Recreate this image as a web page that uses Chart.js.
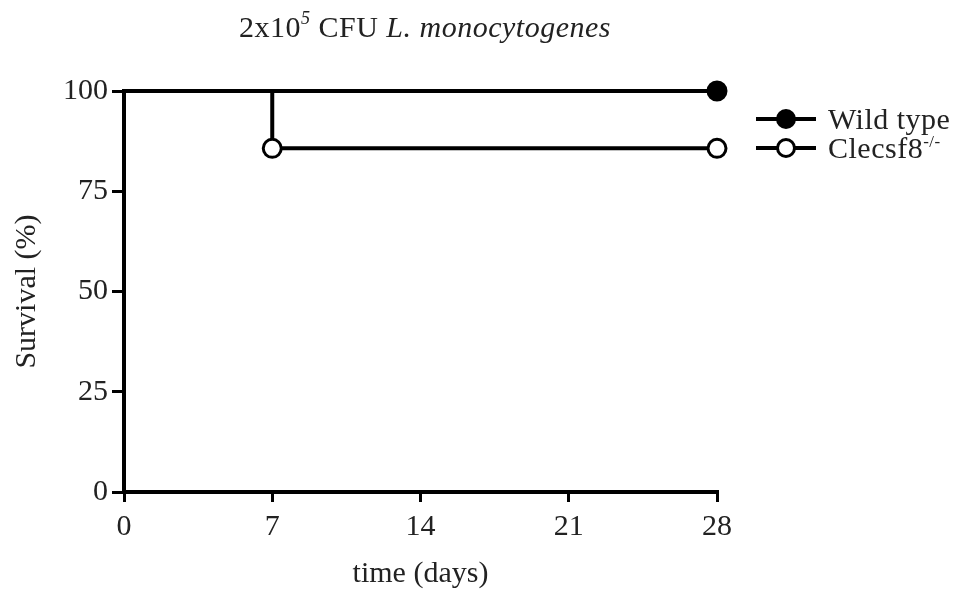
<!DOCTYPE html>
<html>
<head>
<meta charset="utf-8">
<script src="https://cdn.jsdelivr.net/npm/chart.js@4.4.1/dist/chart.umd.min.js"></script>
<style>
  html, body { margin: 0; padding: 0; background: #fff; }
  #wrap { position: relative; width: 964px; height: 594px; }
  #title {
    position: absolute; left: 0; top: 12px; width: 850px;
    text-align: center; font-family: "Liberation Serif", serif;
    font-size: 30px; color: #222; line-height: 1; letter-spacing: 0.5px;
  }
  #title sup { font-size: 18px; font-style: italic; vertical-align: 13px; line-height: 0; }
  #legend { position: absolute; left: 756px; top: 104px; font-family: "Liberation Serif", serif; font-size: 30px; color: #222; letter-spacing: 0.5px; }
  .item { display: flex; align-items: center; height: 29px; }
  .sym { position: relative; width: 60px; height: 20px; margin-right: 12px; }
  .sym .ln { position: absolute; left: 0; right: 0; top: 8px; height: 4px; background: #000; }
  .sym .dot { position: absolute; left: 20px; top: 0; width: 20px; height: 20px; border-radius: 50%; box-sizing: border-box; border: 3px solid #000; }
  .item sup { font-size: 17px; vertical-align: 11px; line-height: 0; }
</style>
</head>
<body>
<div id="wrap">
  <canvas id="chart" width="964" height="594"></canvas>
  <div id="title">2x10<sup>5</sup> CFU <i>L. monocytogenes</i></div>
  <div id="legend"></div>
</div>
<script>
// survival data
const wildTypeDays = [0, 28];
const wildTypeSurvival = [100, 100];
const wildTypeMarks = [false, true];

const knockoutDays = [0, 7, 28];
const knockoutSurvival = [100, 85.7, 85.7];
const knockoutMarks = [false, true, true];

const seriesNames = ['Wild type', 'Clecsf8'];
const seriesSup = ['', '-/-'];
const seriesFill = ['#000', '#fff'];

const xTicks = [0, 7, 14, 21, 28];
const yTicks = [0, 25, 50, 75, 100];

const FONT = { family: '"Liberation Serif", serif', size: 30 };

function toPoints(xs, ys) {
  return xs.map((x, i) => ({ x: x, y: ys[i] }));
}

function lineDataset(label, xs, ys, marks, fill) {
  return {
    label: label,
    data: toPoints(xs, ys),
    stepped: true,
    borderColor: '#000',
    borderWidth: 4,
    fill: false,
    clip: false,
    pointRadius: ctx => marks[ctx.dataIndex] ? 9 : 0,
    pointBackgroundColor: fill,
    pointBorderColor: '#000',
    pointBorderWidth: 3
  };
}

// legend built in html so the superscript can be kept
const legendEl = document.getElementById('legend');
seriesNames.forEach((name, i) => {
  const row = document.createElement('div');
  row.className = 'item';
  row.innerHTML = '<div class="sym"><div class="ln"></div><div class="dot" style="background:' +
    seriesFill[i] + '"></div></div><span>' + name +
    (seriesSup[i] ? '<sup>' + seriesSup[i] + '</sup>' : '') + '</span>';
  legendEl.appendChild(row);
});

const ctx = document.getElementById('chart').getContext('2d');

new Chart(ctx, {
  type: 'scatter',
  data: {
    datasets: [
      lineDataset(seriesNames[0], wildTypeDays, wildTypeSurvival, wildTypeMarks, seriesFill[0]),
      lineDataset(seriesNames[1], knockoutDays, knockoutSurvival, knockoutMarks, seriesFill[1])
    ]
  },
  options: {
    responsive: false,
    animation: false,
    showLine: true,
    layout: { padding: { top: 91, right: 247, left: 0, bottom: 0 } },
    plugins: {
      legend: { display: false },
      tooltip: { enabled: false }
    },
    scales: {
      x: {
        type: 'linear',
        min: 0,
        max: 28,
        afterBuildTicks: s => { s.ticks = xTicks.map(v => ({ value: v })); },
        afterFit: s => { s.height = 102; },
        grid: { drawOnChartArea: false, drawTicks: true, tickLength: 10, color: '#000', lineWidth: 3 },
        border: { display: true, color: '#000', width: 4 },
        ticks: { color: '#222', font: FONT, padding: 7, maxRotation: 0 },
        title: { display: true, text: 'time (days)', color: '#222', font: FONT, padding: { top: 0, bottom: 2 } }
      },
      y: {
        min: 0,
        max: 100,
        afterBuildTicks: s => { s.ticks = yTicks.map(v => ({ value: v })); },
        afterFit: s => { s.width = 124; },
        grid: { drawOnChartArea: false, drawTicks: true, tickLength: 12, color: '#000', lineWidth: 3 },
        border: { display: true, color: '#000', width: 4 },
        ticks: { color: '#222', font: FONT, padding: 4 },
        title: { display: true, text: 'Survival (%)', color: '#222', font: FONT, padding: { top: 9, bottom: 0 } }
      }
    }
  }
});
</script>
</body>
</html>
